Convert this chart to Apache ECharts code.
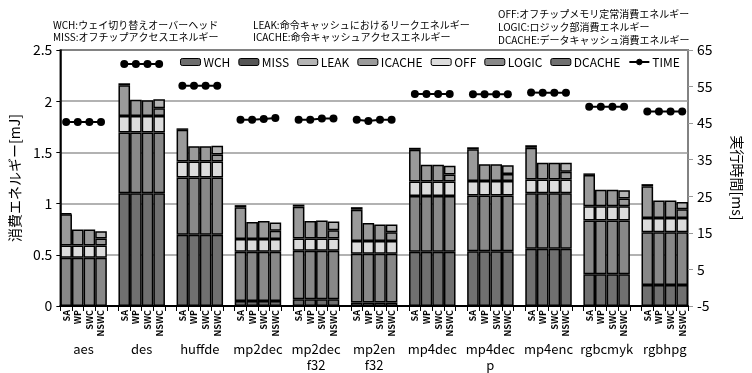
<!DOCTYPE html>
<html>
<head>
<meta charset="utf-8">
<script src="https://cdn.jsdelivr.net/npm/echarts@6/dist/echarts.min.js"></script>
<style>
  html, body { margin: 0; padding: 0; background: #fff; }
  #chart { width: 752px; height: 373px; }
</style>
</head>
<body>
<div id="chart"></div>
<script>
// ベンチマーク (グループ) と構成
const groups = ['aes', 'des', 'huffde', 'mp2dec', 'mp2dec\nf32', 'mp2en\nf32', 'mp4dec', 'mp4dec\np', 'mp4enc', 'rgbcmyk', 'rgbhpg'];
const configs = ['SA', 'WP', 'SWC', 'NSWC'];

// 消費エネルギー [mJ] 各グループ [SA, WP, SWC, NSWC]
const dcache = [0, 1.10, 0.695, 0.05, 0.065, 0.035, 0.53, 0.535, 0.56, 0.31, 0.205];
const logic = [0.47, 0.595, 0.56, 0.48, 0.475, 0.475, 0.545, 0.545, 0.54, 0.525, 0.515];
const off = [0.12, 0.16, 0.155, 0.125, 0.12, 0.125, 0.14, 0.14, 0.135, 0.14, 0.14];
const icache = [
  [0.305, 0.157, 0.157, 0.07],
  [0.30, 0.16, 0.155, 0.075],
  [0.31, 0.15, 0.15, 0.07],
  [0.31, 0.165, 0.175, 0.08],
  [0.31, 0.17, 0.175, 0.08],
  [0.305, 0.175, 0.16, 0.085],
  [0.31, 0.165, 0.165, 0.07],
  [0.31, 0.165, 0.165, 0.07],
  [0.31, 0.165, 0.165, 0.075],
  [0.305, 0.16, 0.16, 0.075],
  [0.31, 0.17, 0.17, 0.085]
];
const leakNswc = [0.07, 0.09, 0.085, 0.08, 0.085, 0.075, 0.085, 0.085, 0.09, 0.08, 0.07];
const missSa = [0.01, 0.02, 0.015, 0.02, 0.02, 0.025, 0.02, 0.02, 0.025, 0.015, 0.02];
const wch = [0, 0, 0, 0, 0, 0, 0, 0, 0, 0, 0];

// 実行時間 [ms]
const time = [
  [45.3, 45.3, 45.3, 45.3],
  [61.2, 61.2, 61.2, 61.2],
  [55.2, 55.2, 55.2, 55.2],
  [45.9, 45.9, 46.1, 46.4],
  [45.9, 45.9, 46.3, 46.3],
  [45.9, 45.6, 45.9, 45.9],
  [53.0, 53.0, 53.0, 53.0],
  [52.9, 52.9, 52.9, 52.9],
  [53.4, 53.3, 53.3, 53.3],
  [49.5, 49.5, 49.5, 49.5],
  [48.2, 48.2, 48.2, 48.2]
];

// 54スロット (4本 + 空白) に展開
const slots = [];
groups.forEach((g, i) => {
  configs.forEach(c => slots.push(c));
  if (i < groups.length - 1) slots.push('');
});
const expand = (fn) => {
  const out = [];
  groups.forEach((g, i) => {
    configs.forEach((c, j) => {
      const v = fn(i, j);
      out.push(v === 0 ? '-' : v);
    });
    if (i < groups.length - 1) out.push('-');
  });
  return out;
};

const barSeries = (name, color, data) => ({
  name: name,
  type: 'bar',
  stack: 'e',
  barCategoryGap: '0%',
  barGap: '0%',
  data: data,
  itemStyle: { color: color, borderColor: '#000', borderWidth: 1.5 }
});

const chart = echarts.init(document.getElementById('chart'));
const font = '"Noto Sans CJK JP", "Noto Sans", sans-serif';
const note = (text, left, top) => ({
  text: text, left: left, top: top,
  textStyle: { fontSize: 10, fontWeight: 'normal', color: '#000', fontFamily: font }
});

chart.setOption({
  animation: false,
  textStyle: { fontFamily: font },
  title: [
    note('WCH:ウェイ切り替えオーバーヘッド', 48, 15),
    note('MISS:オフチップアクセスエネルギー', 48, 27),
    note('LEAK:命令キャッシュにおけるリークエネルギー', 248, 15),
    note('ICACHE:命令キャッシュアクセスエネルギー', 248, 27),
    note('OFF:オフチップメモリ定常消費エネルギー', 493, 4),
    note('LOGIC:ロジック部消費エネルギー', 493, 17),
    note('DCACHE:データキャッシュ消費エネルギー', 493, 30)
  ],
  legend: {
    data: ['WCH', 'MISS', 'LEAK', 'ICACHE', 'OFF', 'LOGIC', 'DCACHE', 'TIME'],
    left: 175,
    top: 51,
    itemWidth: 20,
    itemHeight: 7,
    itemGap: 8,
    textStyle: { fontSize: 12, color: '#000', padding: [0, 0, 0, -2] },
    itemStyle: { borderColor: '#000', borderWidth: 1 }
  },
  grid: {
    left: 56, right: 49, top: 50, bottom: 66,
    show: true, borderColor: '#000', borderWidth: 1.5
  },
  xAxis: [
    {
      type: 'category',
      data: slots,
      axisLine: { lineStyle: { color: '#000', width: 2 } },
      axisTick: { show: true, interval: 0, length: 5, lineStyle: { color: '#000' } },
      axisLabel: { interval: 0, rotate: 90, fontSize: 9, fontWeight: 'bold', color: '#000', margin: 4 }
    },
    {
      type: 'value',
      min: 0, max: 54, interval: 1,
      position: 'bottom',
      offset: 30,
      axisLine: { show: false },
      axisTick: { show: false },
      splitLine: { show: false },
      axisLabel: {
        fontSize: 13, color: '#000', margin: 5, lineHeight: 16,
        formatter: (v) => {
          const k = Math.round(v);
          return k % 5 === 2 ? groups[(k - 2) / 5] : '';
        }
      }
    }
  ],
  yAxis: [
    {
      type: 'value',
      min: 0, max: 2.5, interval: 0.5,
      name: '消費エネルギー[mJ]',
      nameLocation: 'middle',
      nameGap: 32,
      nameTextStyle: { fontSize: 14, color: '#000' },
      axisLine: { show: true, lineStyle: { color: '#000', width: 1.5 } },
      axisTick: { show: true, length: 4, lineStyle: { color: '#000' } },
      axisLabel: { fontSize: 14, color: '#000', margin: 8 },
      splitLine: { lineStyle: { color: '#999', width: 1.5 } }
    },
    {
      type: 'value',
      min: -5, max: 65, interval: 10,
      position: 'right',
      name: '実行時間[ms]',
      nameLocation: 'middle',
      nameRotate: -90,
      nameGap: 42,
      nameTextStyle: { fontSize: 14, color: '#000' },
      axisLine: { show: true, lineStyle: { color: '#999', width: 1.5 } },
      axisTick: { show: true, length: 5, lineStyle: { color: '#999' } },
      axisLabel: { fontSize: 14, color: '#000', margin: 9 },
      splitLine: { show: false }
    }
  ],
  series: [
    barSeries('DCACHE', '#707070', expand((i) => dcache[i])),
    barSeries('LOGIC', '#888888', expand((i) => logic[i])),
    barSeries('OFF', '#dcdcdc', expand((i) => off[i])),
    barSeries('ICACHE', '#9a9a9a', expand((i, j) => icache[i][j])),
    barSeries('LEAK', '#b4b4b4', expand((i, j) => (j === 3 ? leakNswc[i] : 0))),
    barSeries('MISS', '#555555', expand((i, j) => (j === 0 ? missSa[i] : 0))),
    barSeries('WCH', '#6e6e6e', expand((i) => wch[i])),
    {
      name: 'TIME',
      type: 'line',
      yAxisIndex: 1,
      data: expand((i, j) => time[i][j]),
      connectNulls: false,
      symbol: 'circle',
      symbolSize: 8,
      itemStyle: { color: '#000' },
      lineStyle: { color: '#000', width: 2 },
      z: 5
    }
  ]
});
</script>
</body>
</html>
